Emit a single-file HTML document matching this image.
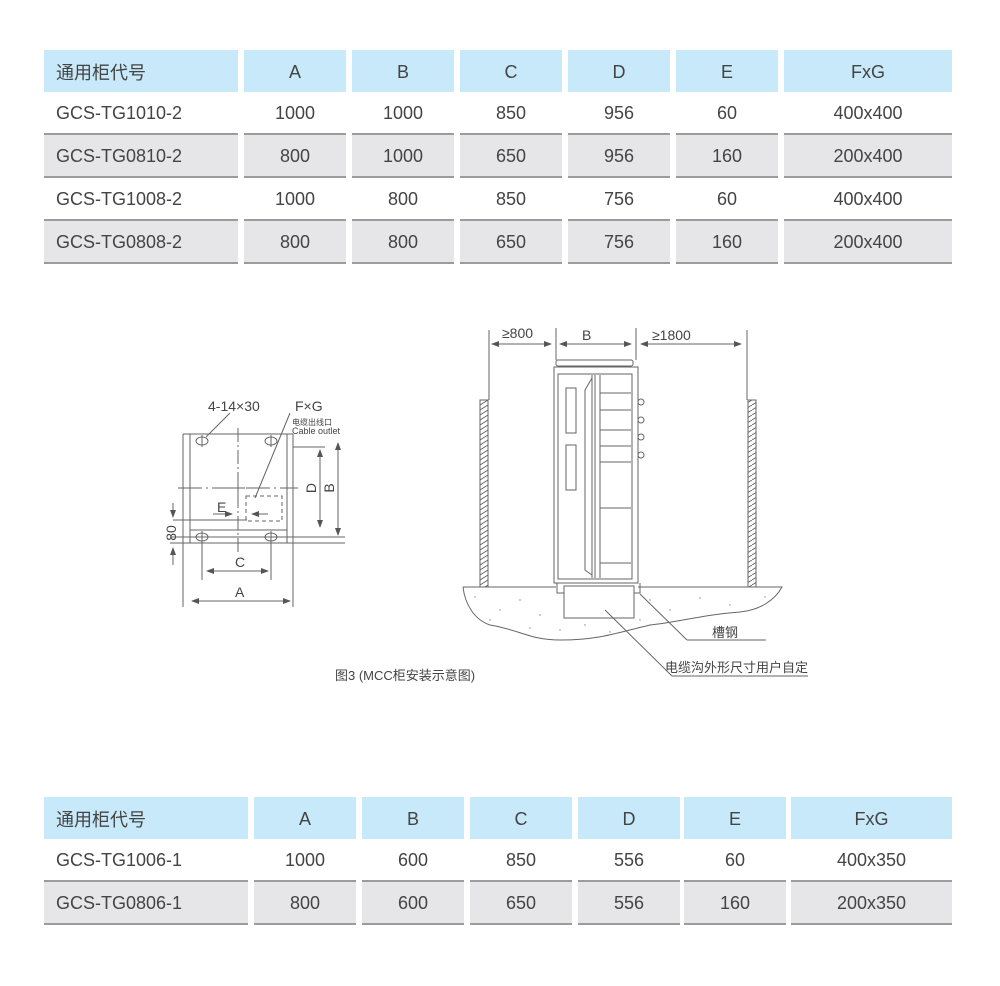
<!DOCTYPE html>
<html><head><meta charset="utf-8"><style>
body{margin:0;width:1000px;height:986px;background:#fff;position:relative;font-family:"Liberation Sans","Noto Sans CJK SC",sans-serif;color:#444;overflow:hidden}
.c{position:absolute;display:flex;align-items:center;justify-content:center;font-size:18px;box-sizing:border-box;padding-top:2px}
.h{background:#c7e9fa;height:42px}
.r{height:43px;border-bottom:2px solid #9c9c9c}
.g{background:#e6e6e9}
.l{justify-content:flex-start;padding-left:12px}
</style></head><body>
<div id="t1"></div><div id="t2"></div>
<script>
function tbl(id,cols,y0,rows,hdr){var h='';var ys=y0;
cols.forEach(function(c,i){h+='<div class="c h'+(i==0?' l':'')+'" style="left:'+c[0]+'px;top:'+ys+'px;width:'+c[1]+'px">'+hdr[i]+'</div>';});
rows.forEach(function(r,j){var y=ys+42+43*j;cols.forEach(function(c,i){h+='<div class="c r'+(j%2?' g':'')+(i==0?' l':'')+'" style="left:'+c[0]+'px;top:'+y+'px;width:'+c[1]+'px">'+r[i]+'</div>';});});
document.getElementById(id).innerHTML=h;}
var hd=['通用柜代号','A','B','C','D','E','FxG'];
tbl('t1',[[44,194],[244,102],[352,102],[460,102],[568,102],[676,102],[784,168]],50,[
['GCS-TG1010-2','1000','1000','850','956','60','400x400'],
['GCS-TG0810-2','800','1000','650','956','160','200x400'],
['GCS-TG1008-2','1000','800','850','756','60','400x400'],
['GCS-TG0808-2','800','800','650','756','160','200x400']],hd);
tbl('t2',[[44,204],[254,102],[362,102],[470,102],[578,102],[684,102],[791,161]],797,[
['GCS-TG1006-1','1000','600','850','556','60','400x350'],
['GCS-TG0806-1','800','600','650','556','160','200x350']],hd);
</script>
<svg width="1000" height="986" style="position:absolute;left:0;top:0" font-family="Liberation Sans,Noto Sans CJK SC,sans-serif">
<defs>
<marker id="a" markerWidth="8" markerHeight="6" refX="7" refY="3" orient="auto-start-reverse"><path d="M0,0L8,3L0,6z" fill="#555"/></marker>
<pattern id="hp" width="8" height="5" patternUnits="userSpaceOnUse"><path d="M0,5L8,0" stroke="#555" stroke-width="0.8"/></pattern>
</defs>
<g stroke="#666" stroke-width="1" fill="none">
<line x1="183" y1="434" x2="183" y2="607"/><line x1="293" y1="434" x2="293" y2="607"/>
<line x1="190" y1="434" x2="190" y2="543"/><line x1="287" y1="434" x2="287" y2="543"/>
<line x1="183" y1="434" x2="293" y2="434"/>
<line x1="190" y1="530" x2="287" y2="530"/>
<line x1="170" y1="537" x2="345" y2="537"/><line x1="170" y1="543" x2="345" y2="543"/>
<line x1="293" y1="447" x2="325" y2="447"/>
<line x1="173" y1="520" x2="247" y2="520"/>
<line x1="238" y1="428" x2="238" y2="552" stroke-dasharray="14,3,2,3"/>
<line x1="178" y1="488" x2="298" y2="488" stroke-dasharray="24,4,2,4"/>
<line x1="231" y1="488" x2="245" y2="488"/><line x1="238" y1="481" x2="238" y2="495"/>
<rect x="246" y="496" width="36" height="25" stroke-dasharray="4,3"/>
<ellipse cx="202" cy="441" rx="6" ry="4"/><ellipse cx="271" cy="441" rx="6" ry="4"/>
<ellipse cx="202" cy="537" rx="6" ry="4"/><ellipse cx="271" cy="537" rx="6" ry="4"/>
<line x1="202" y1="435" x2="202" y2="447"/><line x1="271" y1="435" x2="271" y2="447"/>
<line x1="202" y1="531" x2="202" y2="580"/><line x1="271" y1="531" x2="271" y2="580"/>
<line x1="206" y1="437" x2="230" y2="413"/><line x1="255" y1="498" x2="290" y2="413"/>
<line x1="320" y1="450" x2="320" y2="527" marker-start="url(#a)" marker-end="url(#a)"/>
<line x1="338" y1="443" x2="338" y2="535" marker-start="url(#a)" marker-end="url(#a)"/>
<line x1="207" y1="571" x2="268" y2="571" marker-start="url(#a)" marker-end="url(#a)"/>
<line x1="192" y1="601" x2="290" y2="601" marker-start="url(#a)" marker-end="url(#a)"/>
<line x1="213" y1="514" x2="232" y2="514" marker-end="url(#a)"/>
<line x1="268" y1="514" x2="252" y2="514" marker-end="url(#a)"/>
<line x1="173" y1="503" x2="173" y2="517" marker-end="url(#a)"/>
<line x1="173" y1="565" x2="173" y2="548" marker-end="url(#a)"/>
<line x1="489" y1="330" x2="489" y2="400"/><line x1="556" y1="328" x2="556" y2="360"/>
<line x1="636" y1="328" x2="636" y2="360"/><line x1="747" y1="330" x2="747" y2="400"/>
<line x1="492" y1="344" x2="551" y2="344" marker-start="url(#a)" marker-end="url(#a)"/>
<line x1="560" y1="344" x2="631" y2="344" marker-start="url(#a)" marker-end="url(#a)"/>
<line x1="641" y1="344" x2="741" y2="344" marker-start="url(#a)" marker-end="url(#a)"/>
<rect x="480" y="400" width="8" height="197" fill="url(#hp)"/>
<rect x="748" y="400" width="8" height="197" fill="url(#hp)"/>
<path d="M463,587L556,587M638,587L782,587C775,600 760,610 740,612C700,615 680,622 650,625C620,632 600,640 560,640C530,640 520,630 490,625C475,620 465,605 463,587" fill="#fff"/>
<rect x="564" y="586" width="70" height="32" fill="#fff"/>
<rect x="556" y="360" width="77" height="6" rx="2"/>
<rect x="554" y="367" width="84" height="216" fill="#fff"/>
<rect x="558" y="374" width="74" height="205"/>
<line x1="592" y1="375" x2="592" y2="578"/><line x1="595" y1="375" x2="595" y2="578"/><line x1="600" y1="375" x2="600" y2="578"/>
<path d="M592,378L585,390L585,570L592,575"/>
<rect x="566" y="388" width="10" height="45"/><rect x="566" y="445" width="10" height="45"/>
<line x1="600" y1="393" x2="631" y2="393"/><line x1="600" y1="410" x2="631" y2="410"/><line x1="600" y1="430" x2="631" y2="430"/><line x1="600" y1="446" x2="631" y2="446"/><line x1="600" y1="462" x2="631" y2="462"/><line x1="600" y1="508" x2="631" y2="508"/><line x1="600" y1="563" x2="631" y2="563"/>
<line x1="638" y1="380" x2="638" y2="580"/>
<circle cx="641" cy="402" r="3"/><circle cx="641" cy="420" r="3"/><circle cx="641" cy="437" r="3"/><circle cx="641" cy="455" r="3"/>
<path d="M557,583L557,593L564,593M634,593L640,593L640,583"/>
<line x1="640" y1="594" x2="687" y2="640"/><line x1="687" y1="640" x2="766" y2="640"/>
<line x1="605" y1="610" x2="672" y2="676"/><line x1="672" y1="676" x2="808" y2="676"/>
</g>
<g fill="#888"><circle cx="475" cy="597" r=".7"/><circle cx="500" cy="610" r=".7"/><circle cx="520" cy="600" r=".7"/><circle cx="540" cy="615" r=".7"/><circle cx="530" cy="628" r=".7"/><circle cx="560" cy="630" r=".7"/><circle cx="585" cy="625" r=".7"/><circle cx="610" cy="632" r=".7"/><circle cx="650" cy="600" r=".7"/><circle cx="670" cy="610" r=".7"/><circle cx="700" cy="598" r=".7"/><circle cx="730" cy="605" r=".7"/><circle cx="765" cy="597" r=".7"/><circle cx="490" cy="620" r=".7"/><circle cx="640" cy="620" r=".7"/></g>
<g fill="#444" font-size="14">
<text x="208" y="411">4-14×30</text><text x="295" y="411">F×G</text>
<text x="292" y="425" font-size="8">电缆出线口</text><text x="292" y="434" font-size="9">Cable outlet</text>
<text x="217" y="512">E</text><text x="235" y="567">C</text><text x="235" y="597">A</text>
<text x="316" y="488" transform="rotate(-90 316 488)" text-anchor="middle">D</text>
<text x="334" y="488" transform="rotate(-90 334 488)" text-anchor="middle">B</text>
<text x="176" y="533" transform="rotate(-90 176 533)" text-anchor="middle">80</text>
<text x="502" y="338">≥800</text><text x="582" y="340">B</text><text x="652" y="340">≥1800</text>
<text x="712" y="637" font-size="13">槽钢</text>
<text x="665" y="672" font-size="13">电缆沟外形尺寸用户自定</text>
<text x="335" y="680" font-size="13">图3 (MCC柜安装示意图)</text>
</g>
</svg>
</body></html>
